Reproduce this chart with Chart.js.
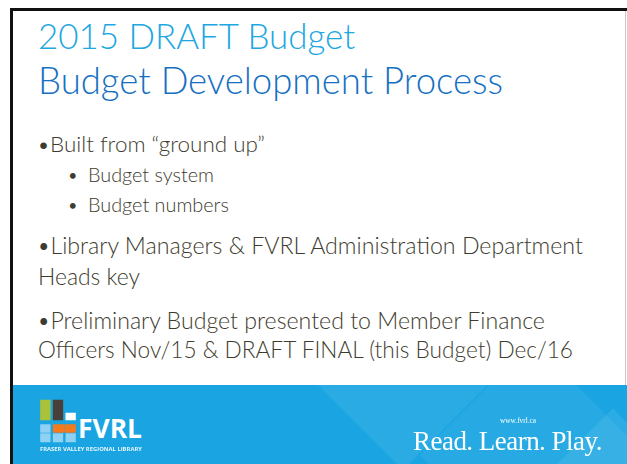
<!DOCTYPE html>
<html><head><meta charset="utf-8">
<script src="https://cdn.jsdelivr.net/npm/chart.js@4.4.1/dist/chart.umd.min.js"></script>
<style>
html,body{margin:0;padding:0;background:#fff;width:627px;height:464px;overflow:hidden;position:relative;font-family:Lato,"Noto Sans",sans-serif}
.t{position:absolute;white-space:nowrap;line-height:1}
#frameTop{position:absolute;left:10px;top:8px;width:617px;height:3px;background:#111}
#frameLeft{position:absolute;left:10px;top:8px;width:3px;height:456px;background:#111}
#frameRight{position:absolute;left:625px;top:11px;width:1px;height:374px;background:#c8c8c8}
#footer{position:absolute;left:13px;top:385px;width:614px;height:79px;background:#1aa5e2;overflow:hidden}
.diag{position:absolute;background:rgba(255,255,255,0.07);transform:rotate(45deg)}
.title{font-weight:300}
.body{color:#3e3c2e;font-weight:300}
#logo{position:absolute;left:39px;top:398px;width:38px;height:46px}
</style></head><body>
<div id="frameTop"></div><div id="frameLeft"></div><div id="frameRight"></div>
<div id="footer">
  <div class="diag" style="left:330px;top:-60px;width:120px;height:120px"></div>
  <div class="diag" style="left:440px;top:-10px;width:160px;height:160px;background:rgba(255,255,255,0.06)"></div>
  <div class="diag" style="left:560px;top:40px;width:80px;height:80px;background:rgba(255,255,255,0.08)"></div>
</div>

<div class="t title" data-w="317" data-cy="36" style="left:38px;color:#1ea7e1">2015 DRAFT Budget</div>
<div class="t title" data-w="465" data-cy="80" style="left:38px;color:#1670c2">Budget Development Process</div>

<div class="t body" data-w="228" data-cy="144" style="left:37px">•Built from “ground up”</div>
<div class="t body" data-cy="175" style="left:69px;font-size:13px;font-weight:700">•</div>
<div class="t body" data-w="126" data-cy="175" style="left:88px">Budget system</div>
<div class="t body" data-cy="205" style="left:69px;font-size:13px;font-weight:700">•</div>
<div class="t body" data-w="141" data-cy="205" style="left:88px">Budget numbers</div>
<div class="t body" data-w="546" data-cy="246" style="left:37px">•Library Managers &amp; FVRL Administration Department</div>
<div class="t body" data-w="102" data-cy="276" style="left:38px">Heads key</div>
<div class="t body" data-w="508" data-cy="321" style="left:37px">•Preliminary Budget presented to Member Finance</div>
<div class="t body" data-w="535" data-cy="350" style="left:38px">Officers Nov/15 &amp; DRAFT FINAL (this Budget) Dec/16</div>

<canvas id="logo" width="38" height="46"></canvas>
<div class="t" data-w="64" data-cy="429" style="left:78px;color:#fff;font-family:'Open Sans',sans-serif;font-weight:700;line-height:0.75">FVRL</div>
<div class="t" data-w="102" data-cy="450" style="left:40px;color:#e8f6fd;font-family:'Open Sans',sans-serif;font-weight:700">FRASER VALLEY REGIONAL LIBRARY</div>
<div class="t" data-w="189" data-cy="442" style="left:413px;color:#fff;font-family:'Liberation Serif',serif;letter-spacing:-0.5px;line-height:0.72">Read. Learn. Play.</div>
<div class="t" data-w="36" data-cy="421" style="left:500px;color:#fff;font-family:'Liberation Serif',serif;line-height:0.7">www.fvrl.ca</div>

<script>
// logo blocks as floating bars
const logoColumns = ['c1', 'c2', 'c3'];
const topRow = [[22.5, 45.5], [22.5, 45.5], [22.5, 32.5]];
const midRow = [[11, 20.5], [11, 20.5], [11, 20.5]];
const bottomRow = [[0.5, 11], [0.5, 11], [0.5, 11]];
const topColors = ['#a9c23a', '#4a3f38', '#ffffff'];
const midColors = ['#8fd1f2', '#f47a20', '#f47a20'];
const bottomColors = ['#8fd1f2', '#8fd1f2', '#8fd1f2'];

// fit text lines to measured widths and vertical centres
document.querySelectorAll('[data-cy]').forEach(el => {
  if (el.dataset.w) {
    let fs = parseFloat(el.style.fontSize) || 20;
    el.style.fontSize = fs + 'px';
    for (let i = 0; i < 3; i++) {
      const w = el.getBoundingClientRect().width;
      fs = fs * parseFloat(el.dataset.w) / w;
      el.style.fontSize = fs + 'px';
    }
  }
  const h = el.getBoundingClientRect().height;
  el.style.top = (parseFloat(el.dataset.cy) - h / 2) + 'px';
});

const blue = '#1aa5e2';
new Chart(document.getElementById('logo'), {
  type: 'bar',
  data: {
    labels: logoColumns,
    datasets: [
      {data: topRow, backgroundColor: topColors, borderColor: blue, borderWidth: 1.5, borderSkipped: false, grouped: false},
      {data: midRow, backgroundColor: midColors, borderColor: blue, borderSkipped: false, grouped: false,
       borderWidth: ctx => ctx.dataIndex === 1 ? {top: 1, bottom: 0.5, left: 1.5, right: 0} : ctx.dataIndex === 2 ? {top: 1, bottom: 0.5, left: 0, right: 1.5} : {top: 1, bottom: 0.5, left: 1.5, right: 1.5}},
      {data: bottomRow, backgroundColor: bottomColors, borderColor: blue, borderWidth: {top: 0.5, bottom: 1.5, left: 1.5, right: 1.5}, borderSkipped: false, grouped: false}
    ]
  },
  options: {
    responsive: false, animation: false, devicePixelRatio: 1,
    layout: {padding: 0},
    plugins: {legend: {display: false}, tooltip: {enabled: false}},
    scales: {
      x: {display: false, offset: true},
      y: {display: false, min: 0, max: 46}
    },
    datasets: {bar: {barPercentage: 1, categoryPercentage: 1}}
  }
});
</script>
</body></html>
